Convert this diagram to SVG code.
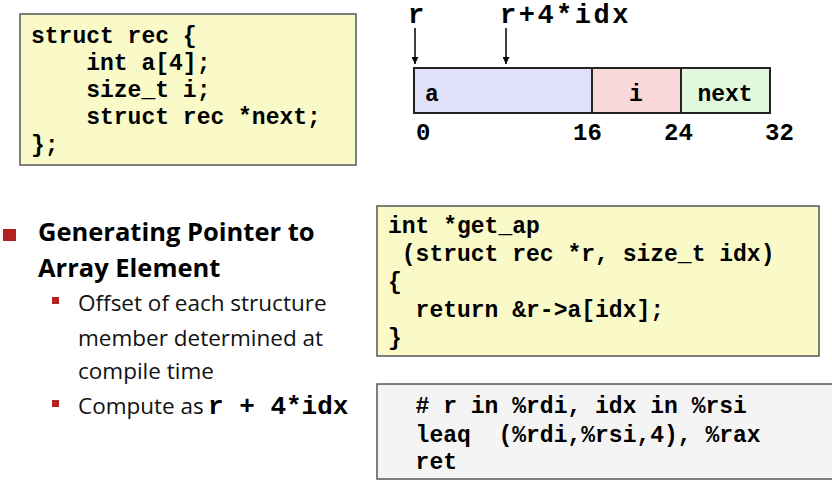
<svg xmlns="http://www.w3.org/2000/svg" width="832" height="484" viewBox="0 0 832 484">
<defs>
<style>
.code{font-family:"Liberation Mono","Courier New",monospace;font-weight:bold;font-size:23px;fill:#000;white-space:pre}
.num{font-size:24px}
.big{font-size:27px;letter-spacing:2.5px}
.box{stroke:#555;stroke-width:1.5}
.yel{fill:#fafac8}
.head{font-family:"Open Sans",Lato,sans-serif;font-weight:bold;font-size:25.5px;fill:#000}
.body{font-family:"Open Sans",Lato,sans-serif;font-size:22.5px;fill:#111}
.inl{font-size:26px}
.cell{stroke:#222;stroke-width:2}
.ptr{stroke:#000;stroke-width:1.5;fill:none}
</style>
<marker id="ah" viewBox="0 0 10 10" refX="10" refY="5" markerWidth="7" markerHeight="7" markerUnits="userSpaceOnUse" orient="auto">
<path d="M0,0 L10,5 L0,10 z" fill="#000"/>
</marker>
</defs>
<rect width="832" height="484" fill="#fff"/>

<g id="struct-def">
<rect class="box yel" x="20" y="14" width="336" height="151"/>
<text class="code" xml:space="preserve" x="31" y="43">struct rec {</text>
<text class="code" xml:space="preserve" x="31" y="70">    int a[4];</text>
<text class="code" xml:space="preserve" x="31" y="97">    size_t i;</text>
<text class="code" xml:space="preserve" x="31" y="124">    struct rec *next;</text>
<text class="code" xml:space="preserve" x="31" y="152">};</text>
</g>

<g id="memory-layout">
<rect class="cell" x="414" y="68" width="178" height="45" fill="#e0e0f8"/>
<rect class="cell" x="592" y="68" width="89" height="45" fill="#f8d8d8"/>
<rect class="cell" x="681" y="68" width="89" height="45" fill="#e0f8dc"/>
<text class="code" x="425" y="101">a</text>
<text class="code" x="636" y="101" text-anchor="middle">i</text>
<text class="code" x="725" y="101" text-anchor="middle">next</text>
<text class="code num" x="416" y="140">0</text>
<text class="code num" x="573" y="140">16</text>
<text class="code num" x="664" y="140">24</text>
<text class="code num" x="765" y="140">32</text>
</g>

<g id="pointer-labels">
<text class="code big" x="408" y="23">r</text>
<text class="code big" x="500" y="23">r+4*idx</text>
</g>

<g id="connectors">
<line class="ptr" x1="415" y1="28" x2="415" y2="64" marker-end="url(#ah)"/>
<line class="ptr" x1="506" y1="28" x2="506" y2="64" marker-end="url(#ah)"/>
</g>

<g id="bullets">
<rect x="3" y="229" width="13" height="12" fill="#b22222"/>
<text class="head" x="38" y="241">Generating Pointer to</text>
<text class="head" x="38" y="277">Array Element</text>
<rect x="52" y="297" width="7" height="7" fill="#b22222"/>
<text class="body" x="78" y="311">Offset of each structure</text>
<text class="body" x="78" y="346">member determined at</text>
<text class="body" x="78" y="379">compile time</text>
<rect x="52" y="400" width="7" height="7" fill="#b22222"/>
<text class="body" x="78" y="414">Compute as <tspan class="code inl" x="208">r + 4*idx</tspan></text>
</g>

<g id="c-code">
<rect class="box yel" x="377" y="206" width="442" height="150"/>
<text class="code" xml:space="preserve" x="388" y="233">int *get_ap</text>
<text class="code" xml:space="preserve" x="388" y="261"> (struct rec *r, size_t idx)</text>
<text class="code" xml:space="preserve" x="388" y="289">{</text>
<text class="code" xml:space="preserve" x="388" y="317">  return &amp;r-&gt;a[idx];</text>
<text class="code" xml:space="preserve" x="388" y="345">}</text>
</g>

<g id="asm-code">
<rect class="box" x="377" y="384" width="470" height="95" fill="#f4f4f4"/>
<text class="code" xml:space="preserve" x="388" y="413">  # r in %rdi, idx in %rsi</text>
<text class="code" xml:space="preserve" x="388" y="442">  leaq  (%rdi,%rsi,4), %rax</text>
<text class="code" xml:space="preserve" x="388" y="469">  ret</text>
</g>
</svg>
